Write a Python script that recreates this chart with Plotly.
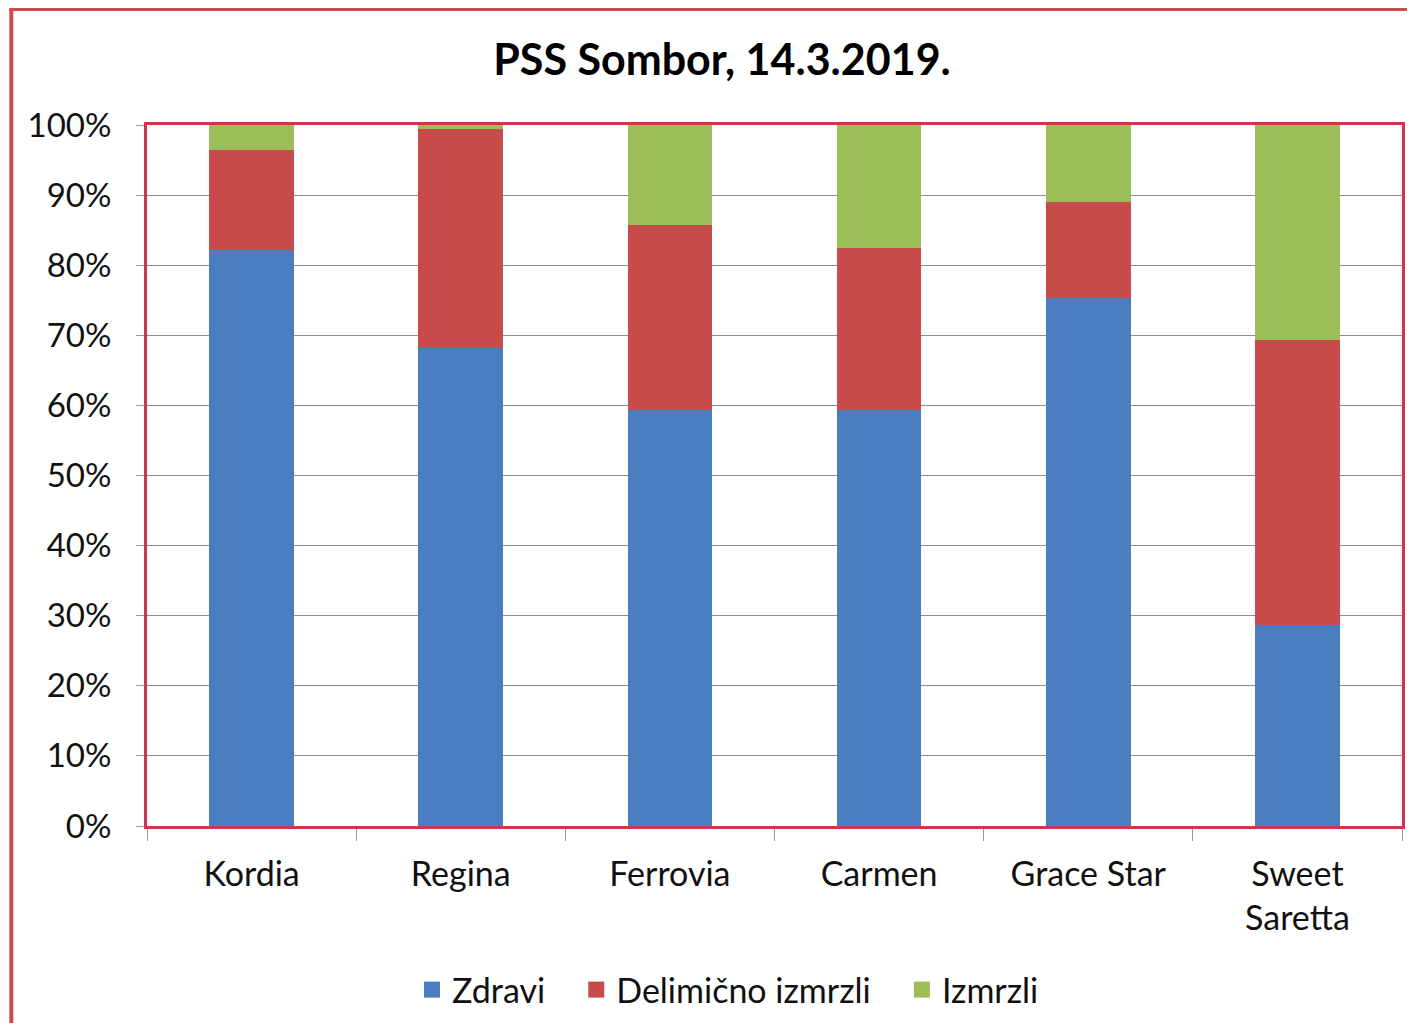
import plotly.graph_objects as go

categories = ["Kordia", "Regina", "Ferrovia", "Carmen", "Grace Star", "Sweet<br>Saretta"]
zdravi = [82.2, 68.2, 59.3, 59.3, 75.3, 28.7]
delimicno = [14.2, 31.3, 26.4, 23.2, 13.7, 40.6]
izmrzli = [3.6, 0.5, 14.3, 17.5, 11.0, 30.7]
series_names = ["Zdravi", "Delimično izmrzli", "Izmrzli"]
series_colors = ["#4A7EC0", "#C84B4B", "#9BBE59"]
y_ticks = [0, 10, 20, 30, 40, 50, 60, 70, 80, 90, 100]

FONT = "Lato, Open Sans, sans-serif"
OFF = 8  # page body margin
W, H = 1415 - 2 * OFF, 1031 - 2 * OFF
L = 147 - OFF
T = 125 - OFF
R = W - (1405 - OFF)
B = H - (826 - OFF)

fig = go.Figure()
for name, vals, col in zip(series_names, [zdravi, delimicno, izmrzli], series_colors):
    fig.add_trace(go.Bar(x=categories, y=vals, name=name, marker_color=col,
                         marker_line_width=0, showlegend=False))
pads = ["\u00a0\u00a0\u00a0", "\u00a0\u00a0\u00a0", ""]
for name, col, pad in zip(series_names, series_colors, pads):
    fig.add_trace(go.Scatter(x=[None], y=[None], mode="markers", name=name + pad,
                             marker=dict(symbol="square", size=19, color=col)))

pw = W - L - R
ph = H - T - B
def px_x(x):
    return (x - OFF - L) / pw
def px_y(y):
    return (H - B - (y - OFF)) / ph

fig.update_layout(
    width=W, height=H,
    barmode="stack", bargap=0.595,
    margin=dict(l=L, r=R, t=T, b=B),
    paper_bgcolor="white", plot_bgcolor="white",
    font=dict(family=FONT, size=33, color="#111111"),
    title=dict(text="<b>PSS Sombor, 14.3.2019.</b>", x=(722 - OFF) / W, xref="container", xanchor="center",
               y=1 - (60 - OFF) / H, yref="container", yanchor="middle",
               font=dict(family=FONT, size=43, color="black")),
    legend=dict(orientation="h", x=(728 - OFF) / W, xref="container", xanchor="center",
                y=1 - (990 - OFF) / H, yref="container", yanchor="middle",
                font=dict(family=FONT, size=34), itemwidth=30, traceorder="normal"),
    showlegend=True,
    xaxis=dict(showgrid=False, showline=True, linecolor="#C8394E", linewidth=3, mirror=True,
               ticks="outside", tickson="boundaries", ticklen=12, tickcolor="#999999",
               ticklabelstandoff=16,
               tickfont=dict(family=FONT, size=34, color="#111111")),
    yaxis=dict(range=[0, 100], tickvals=y_ticks, ticktext=[f"{v}%" for v in y_ticks],
               showgrid=True, gridcolor="#8c8c8c", gridwidth=1,
               showline=True, linecolor="#C8394E", linewidth=3, mirror=True,
               ticks="outside", ticklen=8, tickcolor="#999999", ticklabelstandoff=18,
               tickfont=dict(family=FONT, size=33, color="#111111"), zeroline=False),
    shapes=[
        dict(type="line", xref="paper", yref="paper", x0=px_x(11), x1=px_x(11), y0=px_y(1031), y1=px_y(8),
             line=dict(color="#CC4B50", width=4)),
        dict(type="line", xref="paper", yref="paper", x0=px_x(9), x1=px_x(1415), y0=px_y(9), y1=px_y(9),
             line=dict(color="#CC4B50", width=4)),
    ],
)

fig.write_html("out.html")
